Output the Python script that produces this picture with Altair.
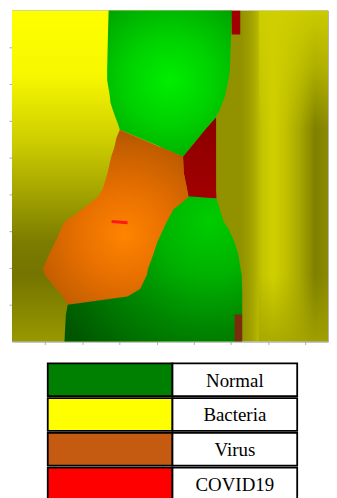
import altair as alt
import pandas as pd

# ---------------- data (data units: x ticks and y ticks at 1..8) ----------------
X_TICKS = [1, 2, 3, 4, 5, 6, 7, 8]
Y_TICKS = [1, 2, 3, 4, 5, 6, 7, 8]
X_DOMAIN = [0.11, 8.61]
Y_DOMAIN = [0, 9]
BG_SPLIT = 4.10  # left background half ends here (hidden under the map regions)
GLOW_X = 6.75    # right-hand highlight column starts here

# region outlines: at each level y, left edge xl and right edge xr
GREEN_TOP_Y = [9.00, 8.30, 7.38, 7.11, 6.68, 6.49, 6.30, 6.08, 5.95, 5.76, 5.41, 5.03]
GREEN_TOP_XL = [2.71, 2.69, 2.67, 2.67, 2.74, 2.76, 2.82, 2.90, 2.95, 3.01, 3.83, 4.71]
GREEN_TOP_XR = [6.03, 6.00, 5.97, 5.93, 5.84, 5.77, 5.70, 5.58, 5.46, 5.30, 5.02, 4.71]

COVID_MID_Y = [6.08, 5.76, 5.41, 5.03, 4.59, 4.14, 3.89]
COVID_MID_XL = [5.58, 5.30, 5.02, 4.71, 4.73, 4.82, 4.87]
COVID_MID_XR = [5.60, 5.60, 5.60, 5.60, 5.60, 5.60, 5.61]

VIRUS_Y = [5.76, 5.54, 5.27, 5.03, 4.59, 4.14, 3.92, 3.59, 3.24, 3.05, 2.70, 2.35, 1.97, 1.81, 1.43, 1.22, 1.00]
VIRUS_XL = [3.01, 2.92, 2.86, 2.78, 2.68, 2.55, 2.41, 1.99, 1.51, 1.43, 1.27, 1.10, 0.94, 1.00, 1.30, 1.48, 1.61]
VIRUS_XR = [3.01, 3.51, 4.14, 4.71, 4.73, 4.82, 4.85, 4.45, 4.27, 4.18, 4.02, 3.91, 3.77, 3.74, 3.56, 3.22, 1.61]

GREEN_BOT_Y = [3.95, 3.89, 3.59, 3.24, 3.05, 2.70, 2.35, 1.97, 1.81, 1.43, 1.22, 1.00, 0.73, 0.00]
GREEN_BOT_XL = [4.85, 4.82, 4.45, 4.27, 4.18, 4.02, 3.91, 3.77, 3.74, 3.56, 3.22, 1.61, 1.56, 1.52]
GREEN_BOT_XR = [4.85, 5.61, 5.70, 5.81, 5.94, 6.10, 6.20, 6.26, 6.29, 6.30, 6.30, 6.30, 6.30, 6.30]

COVID_TOP_X = [6.02, 6.25]
COVID_TOP_Y = [8.35, 9.00]
DARK_BOT_X = [6.10, 6.30]
DARK_BOT_Y = [0.00, 0.73]

SAMPLE_X = [2.79, 3.22]
SAMPLE_Y = [3.26, 3.23]

LEGEND_CLASSES = ["Normal", "Bacteria", "Virus", "COVID19"]
LEGEND_COLORS = ["#008000", "#FFFF00", "#C55A11", "#FF0000"]

# ---------------- helpers ----------------
xs = alt.Scale(domain=X_DOMAIN, nice=False, zero=False)
ys = alt.Scale(domain=Y_DOMAIN, nice=False, zero=False)
AX = dict(labels=False, title=None, grid=False, tickSize=3,
          domainColor="#ABABAB", tickColor="#ABABAB", domainWidth=1, tickWidth=1)
xax = alt.Axis(values=X_TICKS, **AX)
yax = alt.Axis(values=Y_TICKS, **AX)


def lin(stops, x1=0, y1=0, x2=0, y2=1):
    return {"gradient": "linear", "x1": x1, "y1": y1, "x2": x2, "y2": y2,
            "stops": [{"offset": o, "color": c} for o, c in stops]}


def rad(cx, cy, r, stops):
    return {"gradient": "radial", "x1": cx, "y1": cy, "r1": 0,
            "x2": cx, "y2": cy, "r2": r,
            "stops": [{"offset": o, "color": c} for o, c in stops]}


def rect_layer(x, y, color):
    df = pd.DataFrame({"x0": [x[0]], "x1": [x[1]], "y0": [y[0]], "y1": [y[1]]})
    return alt.Chart(df).mark_rect(color=color, clip=True).encode(
        x=alt.X("x0:Q", scale=xs, axis=xax), x2="x1:Q",
        y=alt.Y("y0:Q", scale=ys, axis=yax), y2="y1:Q")


def region_layer(yv, xl, xr, color):
    df = pd.DataFrame({"y": yv, "xl": xl, "xr": xr})
    return alt.Chart(df).mark_area(orient="horizontal", color=color, interpolate="linear").encode(
        y=alt.Y("y:Q", scale=ys, axis=yax),
        x=alt.X("xl:Q", scale=xs, axis=xax), x2="xr:Q")


# ---------------- map layers ----------------
# full-width base: vertical stripes of brightness on the right-hand side
bg_right = rect_layer(X_DOMAIN, Y_DOMAIN, lin([
    (0.0, "#929200"), (0.726, "#929200"), (0.758, "#A2A200"), (0.792, "#C4C400"),
    (0.827, "#D0D000"), (0.868, "#C0C000"), (0.909, "#A8A800"), (0.959, "#808000"),
    (1.0, "#8A8A00")], x1=0, y1=0, x2=1, y2=0))

bg_left = rect_layer([X_DOMAIN[0], BG_SPLIT], Y_DOMAIN, lin([
    (0.0, "#FFFF00"), (0.2, "#F6F600"), (0.4, "#CCCC00"), (0.55, "#A4A400"),
    (0.7, "#7C7C00"), (0.8, "#747400"), (1.0, "#989800")]))

glow = rect_layer([GLOW_X, X_DOMAIN[1]], Y_DOMAIN, lin([
    (0.0, "rgba(206,206,0,0.95)"), (0.17, "rgba(206,206,0,0.6)"), (0.36, "rgba(206,206,0,0)"),
    (0.80, "rgba(164,164,0,0)"), (1.0, "rgba(164,164,0,0.85)")]))

covid_mid = region_layer(COVID_MID_Y, COVID_MID_XL, COVID_MID_XR, lin([
    (0.0, "#8A0000"), (1.0, "#A20000")]))

green_top = region_layer(GREEN_TOP_Y, GREEN_TOP_XL, GREEN_TOP_XR, rad(0.5, 0.48, 0.68, [
    (0.0, "#00EE00"), (0.45, "#00D000"), (0.8, "#00B000"), (1.0, "#009A00")]))

virus = region_layer(VIRUS_Y, VIRUS_XL, VIRUS_XR, rad(0.55, 0.6, 0.72, [
    (0.0, "#FF8400"), (0.35, "#E87000"), (0.7, "#C45E00"), (1.0, "#A04C00")]))

green_bot = region_layer(GREEN_BOT_Y, GREEN_BOT_XL, GREEN_BOT_XR, rad(0.82, 0.23, 1.0, [
    (0.0, "#00CC00"), (0.3, "#00B200"), (0.6, "#008600"), (1.0, "#005600")]))

covid_top = rect_layer(COVID_TOP_X, COVID_TOP_Y, "#A00000")
dark_bot = rect_layer(DARK_BOT_X, DARK_BOT_Y, "#7A2C0C")

sample = alt.Chart(pd.DataFrame({"x": SAMPLE_X, "y": SAMPLE_Y})).mark_line(
    color="#FF1A1A", strokeWidth=3).encode(
    x=alt.X("x:Q", scale=xs, axis=xax), y=alt.Y("y:Q", scale=ys, axis=yax))

map_chart = alt.layer(
    bg_right, bg_left, glow,
    covid_mid, green_top, virus, green_bot, covid_top, dark_bot, sample
).properties(width=318, height=333, view=alt.ViewBackground(stroke="#B4B4B4", strokeWidth=1))

# ---------------- legend table ----------------
cells = []
for cls, col in zip(LEGEND_CLASSES, LEGEND_COLORS):
    cells.append({"cls": cls, "col": "swatch", "fill": col})
    cells.append({"cls": cls, "col": "label", "fill": "#FFFFFF"})
cells_df = pd.DataFrame(cells)

lx = alt.Scale(domain=["swatch", "label"], range=[36, 287], paddingInner=0, paddingOuter=0)
ly = alt.Scale(domain=LEGEND_CLASSES, paddingInner=0.057, paddingOuter=0)

legend_boxes = alt.Chart(cells_df).mark_rect(stroke="#000000", strokeWidth=1.8).encode(
    x=alt.X("col:N", scale=lx, axis=None),
    y=alt.Y("cls:N", scale=ly, axis=None),
    fill=alt.Fill("fill:N", scale=None))

legend_text = alt.Chart(cells_df[cells_df["col"] == "label"]).mark_text(
    font="Liberation Serif", fontSize=19, color="#000000", baseline="middle", dy=1).encode(
    x=alt.X("col:N", scale=lx, axis=None),
    y=alt.Y("cls:N", scale=ly, axis=None),
    text="cls:N")

legend_chart = alt.layer(legend_boxes, legend_text).properties(
    width=318, height=138, view=alt.ViewBackground(strokeWidth=0))

chart = alt.vconcat(map_chart, legend_chart, spacing=17).properties(
    padding={"left": 0, "top": 0, "right": 0, "bottom": 0}
).configure_view(strokeWidth=0)

chart.save("out.html", embed_options={"renderer": "svg", "actions": False})
